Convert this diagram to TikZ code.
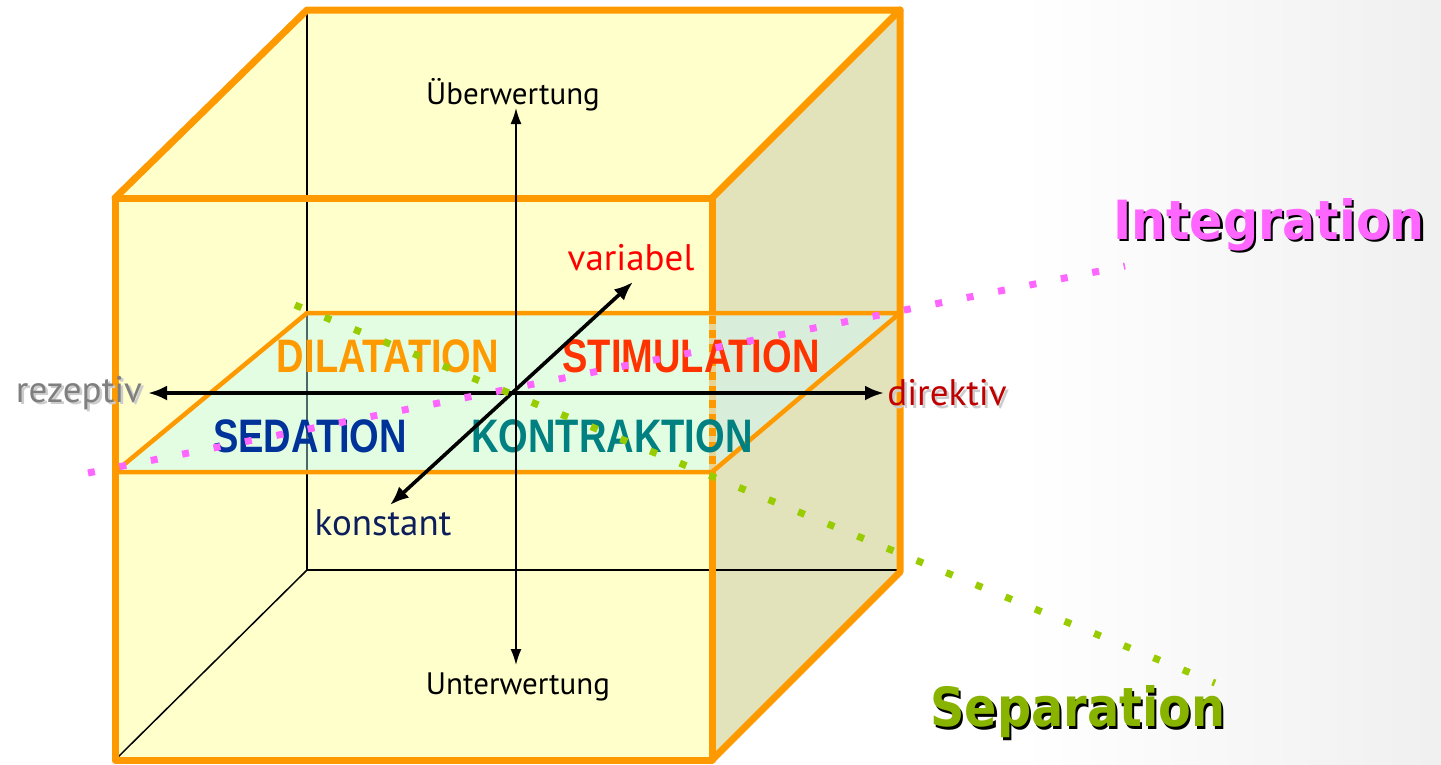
\documentclass[tikz,border=0pt]{standalone}
\usepackage{fontspec}
\usetikzlibrary{arrows.meta}
\newfontfamily\labf{PT Sans}
\newfontfamily\wordf{Liberation Sans}
\newfontfamily\bigf{DejaVu Sans}
\definecolor{cubeor}{HTML}{FF9900}
\definecolor{faceyel}{HTML}{FFFFCC}
\definecolor{faceside}{HTML}{E3E3BB}
\definecolor{planemint}{HTML}{E3FDE3}
\definecolor{planeside}{HTML}{D8EEDA}
\definecolor{dilc}{HTML}{FF9900}
\definecolor{stimc}{HTML}{FF3300}
\definecolor{sedc}{HTML}{003399}
\definecolor{kontc}{HTML}{008080}
\definecolor{varc}{HTML}{FF0000}
\definecolor{konc}{HTML}{0C1F5C}
\definecolor{rezc}{HTML}{7F7F7F}
\definecolor{dirc}{HTML}{C00000}
\definecolor{integc}{HTML}{FF66FF}
\definecolor{sepc}{HTML}{88B400}
\definecolor{sepdot}{HTML}{99CC00}
\definecolor{beige}{HTML}{E8D596}
\newcommand{\shadowtext}[4]{\makebox[0pt][l]{\hspace*{#2}\raisebox{-#2}{\textcolor{#3}{#1}}}\textcolor{#4}{#1}}
\begin{document}
\begin{tikzpicture}[x=1pt,y=-1pt,
  cubeedge/.style={draw=cubeor,line width=7pt,line join=round,line cap=round},
  planeedge/.style={draw=cubeor,line width=4.5pt,line join=round},
  hidden/.style={draw=black,line width=1.5pt},
  word/.style={inner sep=0pt,font=\wordf\bfseries\fontsize{47}{47}\selectfont},
  lab/.style={inner sep=0pt,font=\labf\fontsize{31}{31}\selectfont},
  labbig/.style={inner sep=0pt,font=\labf\fontsize{37}{37}\selectfont},
  axisthick/.style={draw=black,line width=3.6pt,{Latex[length=19pt,width=15pt]}-{Latex[length=19pt,width=15pt]}},
  axisthin/.style={draw=black,line width=1.6pt,{Latex[length=16pt,width=11pt]}-{Latex[length=16pt,width=11pt]}},
  dotline/.style={line width=7pt,dash pattern=on 7pt off 25pt},
  bigword/.style={inner sep=0pt,font=\bigf\bfseries\fontsize{54}{54}\selectfont}
]
\useasboundingbox (0,0) rectangle (1441,764);
\fill[white] (0,0) rectangle (1441,764);
\shade[left color=white,right color=black!6,draw=none] (1020,0) rectangle (1441,764);

% faces
\fill[faceyel] (115,198) rectangle (712,760);
\fill[faceyel] (115,198) -- (307,10) -- (900,10) -- (712,198) -- cycle;
\fill[faceside] (712,198) -- (900,10) -- (900,572) -- (712,760) -- cycle;

% hidden edges
\draw[hidden] (307,10) -- (307,570) -- (900,570);
\draw[hidden] (115,760) -- (307,570);

% middle plane
\fill[planemint] (115,472) -- (307,313) -- (900,313) -- (712,472) -- cycle;
\fill[planeside] (712,313) -- (900,313) -- (712,472) -- cycle;
\draw[draw=black!45!teal!40!gray,line width=1.5pt] (307,313) -- (307,472);

% cube edges
\draw[cubeedge] (712,313) -- (712,198) -- (115,198) -- (115,760) -- (712,760) -- (712,472);
\draw[cubeedge] (115,198) -- (307,10) -- (900,10) -- (712,198);
\draw[cubeedge] (900,10) -- (900,572) -- (712,760);
\draw[draw=beige,line width=7pt] (712,313) -- (712,472);
\draw[draw=cubeor,line width=7pt,dash pattern=on 8pt off 6pt] (712,316) -- (712,472);

% plane edges
\draw[planeedge] (115,472) -- (307,313) -- (900,313) -- (712,472) -- cycle;

% quadrant words
\node[word,text=dilc] (dil) at (388,356) {\scalebox{0.81}[1]{DILATATION}};
\node[word,text=stimc] (stim) at (691,356) {\scalebox{0.81}[1]{STIMULATION}};
\node[word,text=sedc] (sed) at (310,436) {\scalebox{0.81}[1]{SEDATION}};
\node[word,text=kontc] (kont) at (612,436) {\scalebox{0.81}[1]{KONTRAKTION}};

% axis labels
\node[lab] (ueber) at (513,95) {Überwertung};
\node[lab] (unter) at (518,687) {Unterwertung};
\node[labbig,text=varc] (var) at (631,258) {variabel};
\node[labbig,text=konc] (kon) at (383,523) {konstant};
\node[labbig] (rez) at (79,394) {\shadowtext{rezeptiv}{2.5pt}{black!20}{rezc}};
\node[labbig] (dir) at (947,394) {\shadowtext{direktiv}{2.5pt}{black!20}{dirc}};

% axes
\coordinate (vtop) at (516,108);
\coordinate (vbot) at (516,665);
\coordinate (hl) at (148,393);
\coordinate (hr) at (884,393);
\coordinate (dlo) at (390,505);
\coordinate (dhi) at (633,282);
\draw[axisthin] (vtop) -- (vbot);
\draw[axisthick] (hl) -- (hr);
\draw[axisthick] (dlo) -- (dhi);

% dotted lines
\coordinate (p1) at (88,473);
\coordinate (p2) at (1125,266);
\coordinate (g1) at (295,305);
\coordinate (g2) at (1215,683);
\draw[dotline,draw=integc] (p1) -- (p2);
\draw[dotline,draw=sepdot] (g1) -- (g2);

% big labels
\node[bigword] (integ) at (1269,226) {\scalebox{0.91}[1]{\shadowtext{Integration}{2.5pt}{black}{integc}}};
\node[bigword] (sep) at (1078,713) {\scalebox{0.885}[1]{\shadowtext{Separation}{2.5pt}{black}{sepc}}};
\end{tikzpicture}
\end{document}
